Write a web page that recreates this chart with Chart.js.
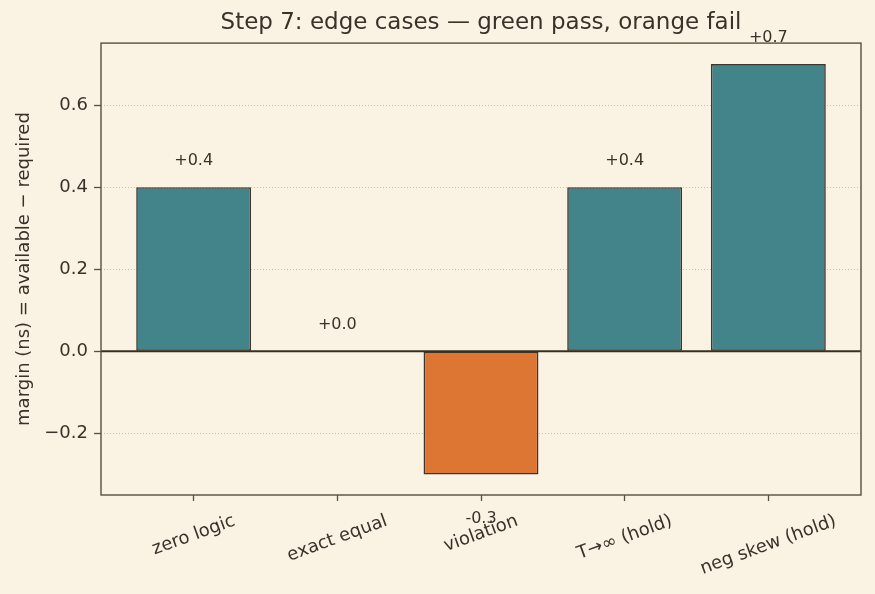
<!DOCTYPE html>
<html>
<head>
<meta charset="utf-8">
<script src="https://cdn.jsdelivr.net/npm/chart.js@4/dist/chart.umd.min.js"></script>
<style>
  html, body { margin: 0; padding: 0; background: #faf3e4; }
  #wrap { width: 875px; height: 594px; }
</style>
</head>
<body>
<div id="wrap"><canvas id="edgeChart" width="875" height="594"></canvas></div>
<script>
// data
const categories = ['zero logic', 'exact equal', 'violation', 'T\u2192\u221e (hold)', 'neg skew (hold)'];
const margins = [0.4, 0.0, -0.3, 0.4, 0.7];
const yTicks = [-0.2, 0.0, 0.2, 0.4, 0.6];

const TEXT = '#3b3129';
const FRAME = '#5b4e3e';
const PASS = 'rgba(51, 122, 130, 0.92)';
const FAIL = 'rgba(218, 107, 36, 0.92)';
const FONT = "'DejaVu Sans', sans-serif";

function fmtTick(v) {
    const s = Math.abs(v).toFixed(1);
    return v < -1e-9 ? '\u2212' + s : s;
}

const decor = {
    id: 'decor',
    beforeDatasetsDraw(chart) {
        const { ctx, chartArea: a, scales: { y } } = chart;
        ctx.save();
        ctx.strokeStyle = '#bdb3a0';
        ctx.lineWidth = 0.8;
        ctx.setLineDash([1, 2]);
        yTicks.forEach(v => {
            const py = Math.round(y.getPixelForValue(v)) + 0.5;
            ctx.beginPath();
            ctx.moveTo(a.left, py);
            ctx.lineTo(a.right, py);
            ctx.stroke();
        });
        ctx.restore();
    },
    afterDatasetsDraw(chart) {
        const { ctx, chartArea: a, scales: { x, y } } = chart;
        ctx.save();
        // zero line
        const zy = y.getPixelForValue(0);
        ctx.strokeStyle = '#3a2e22';
        ctx.lineWidth = 2;
        ctx.beginPath();
        ctx.moveTo(a.left, zy);
        ctx.lineTo(a.right, zy);
        ctx.stroke();
        // frame
        ctx.strokeStyle = FRAME;
        ctx.lineWidth = 1.4;
        ctx.strokeRect(a.left, a.top, a.right - a.left, a.bottom - a.top);
        // value labels
        ctx.fillStyle = TEXT;
        ctx.font = '16px ' + FONT;
        ctx.textAlign = 'center';
        ctx.textBaseline = 'middle';
        margins.forEach((v, i) => {
            const px = x.getPixelForValue(i);
            const label = (v < 0 ? '-' : '+') + Math.abs(v).toFixed(1);
            const py = v >= 0 ? y.getPixelForValue(v + 0.05) - 6 : y.getPixelForValue(v - 0.1) + 3;
            ctx.fillText(label, px, py);
        });
        ctx.restore();
    },
    afterDraw(chart) {
        const { ctx, chartArea: a, scales: { x } } = chart;
        ctx.save();
        ctx.fillStyle = TEXT;
        ctx.font = '18px ' + FONT;
        ctx.textAlign = 'center';
        ctx.textBaseline = 'middle';
        const ang = 20 * Math.PI / 180;
        const h = 14;
        categories.forEach((c, i) => {
            const px = x.getPixelForValue(i);
            const w = ctx.measureText(c).width;
            const bh = w * Math.sin(ang) + h * Math.cos(ang);
            const cy = a.bottom + 19 + bh / 2;
            ctx.save();
            ctx.translate(px, cy);
            ctx.rotate(-ang);
            ctx.fillText(c, 0, 0);
            ctx.restore();
        });
        ctx.restore();
    }
};

const ctx = document.getElementById('edgeChart').getContext('2d');

new Chart(ctx, {
    type: 'bar',
    data: {
        datasets: [{
            data: margins.map((v, i) => ({ x: i, y: v })),
            backgroundColor: margins.map(v => v >= 0 ? PASS : FAIL),
            borderColor: '#3e362d',
            borderWidth: 1.6,
            borderSkipped: false,
            barPercentage: 0.8,
            categoryPercentage: 1.0
        }]
    },
    options: {
        responsive: false,
        animation: false,
        events: [],
        layout: { padding: { left: 0, right: 14, top: 0, bottom: 0 } },
        plugins: {
            legend: { display: false },
            tooltip: { enabled: false },
            title: {
                display: true,
                text: 'Step 7: edge cases \u2014 green pass, orange fail',
                color: TEXT,
                fullSize: false,
                font: { family: FONT, size: 23, weight: 'normal' },
                padding: { top: 9, bottom: 6.5 }
            }
        },
        scales: {
            x: {
                type: 'linear',
                min: -0.645,
                max: 4.645,
                bounds: 'data',
                offset: false,
                afterBuildTicks: s => { s.ticks = categories.map((c, i) => ({ value: i })); },
                afterFit: s => { s.height = 99; },
                ticks: { display: false },
                grid: { offset: false, drawOnChartArea: false, drawTicks: true, tickLength: 6, tickColor: FRAME, tickWidth: 1.3 },
                border: { display: false }
            },
            y: {
                min: -0.35,
                max: 0.751,
                bounds: 'data',
                afterBuildTicks: s => { s.ticks = yTicks.map(v => ({ value: v })); },
                afterFit: s => { s.width = 101; },
                ticks: {
                    color: TEXT,
                    padding: 6,
                    font: { family: FONT, size: 18 },
                    callback: v => fmtTick(v)
                },
                grid: { offset: false, drawOnChartArea: false, drawTicks: true, tickLength: 7, tickColor: FRAME, tickWidth: 1.3 },
                border: { display: false },
                title: {
                    display: true,
                    text: 'margin (ns) = available \u2212 required',
                    color: TEXT,
                    font: { family: FONT, size: 18 },
                    padding: { top: 14, bottom: 0 }
                }
            }
        }
    },
    plugins: [decor]
});
</script>
</body>
</html>
